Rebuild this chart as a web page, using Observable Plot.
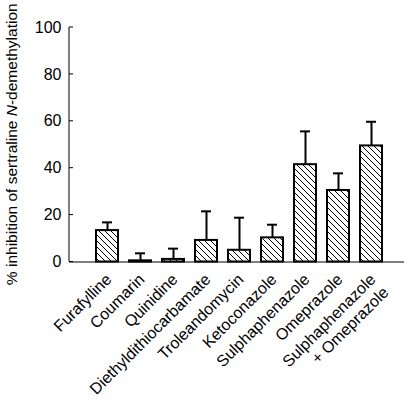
<!DOCTYPE html>
<html>
<head>
<meta charset="utf-8">
<script src="https://cdn.jsdelivr.net/npm/d3@7"></script>
<script src="https://cdn.jsdelivr.net/npm/@observablehq/plot@0.6"></script>
<style>
  html, body { margin: 0; padding: 0; background: #fff; }
  #chart svg { display: block; }
</style>
</head>
<body>
<div id="chart"></div>
<script>
const inhibitors = ["Furafylline", "Coumarin", "Quinidine", "Diethyldithiocarbamate", "Troleandomycin", "Ketoconazole", "Sulphaphenazole", "Omeprazole", "Sulphaphenazole\n+ Omeprazole"];
const meanInhibition = [13.4, 0.5, 1.1, 9.2, 5.0, 10.3, 41.5, 30.5, 49.5];
const errorTop = [16.9, 3.7, 5.7, 21.6, 18.9, 15.9, 55.7, 37.8, 59.8];
const yTicks = [0, 20, 40, 60, 80, 100];

const data = inhibitors.map((name, i) => ({name, mean: meanInhibition[i], top: errorTop[i]}));

const W = 404, H = 401;
const FONT = "'Liberation Sans', Arial, Helvetica, sans-serif";
const plot = Plot.plot({
  width: W,
  height: H,
  marginLeft: 69,
  marginRight: 0,
  marginTop: 27,
  marginBottom: 139.5,
  style: {fontFamily: FONT, fontSize: "16px", color: "#000", background: "#fff"},
  x: {domain: inhibitors, range: [92, 385.5], paddingInner: 0.32, paddingOuter: 0, axis: null},
  y: {domain: [0, 100], axis: null},
  marks: [
    Plot.ruleX(data, {x: "name", y1: "mean", y2: "top", stroke: "#000", strokeWidth: 2}),
    Plot.tickY(data, {x: "name", y: "top", stroke: "#000", strokeWidth: 2, insetLeft: 6, insetRight: 6}),
    Plot.barY(data, {x: "name", y: "mean", fill: "url(#hatch)", stroke: "#000", strokeWidth: 2}),
    Plot.ruleY([0], {stroke: "#000", strokeWidth: 1}),
    Plot.axisY({ticks: yTicks, tickSize: 0, tickPadding: 8, label: null, ariaLabel: "yticks"}),
    Plot.text(data, {x: "name", y: 0, text: "name", rotate: -45, textAnchor: "end", lineAnchor: "top", lineHeight: 1.15, dx: -4.3, dy: 9.2, ariaLabel: "xlabels"})
  ]
});

const svg = d3.select(plot);
svg.selectAll('g[aria-label="yticks"] text').style("font-size", "16px");
svg.selectAll('g[aria-label="xlabels"] text').style("font-size", "16px");

const yScale = plot.scale("y");
const y0 = yScale.apply(0), y100 = yScale.apply(100);
const x0 = 69;

// hatch pattern
const defs = svg.insert("defs", ":first-child");
const pat = defs.append("pattern")
  .attr("id", "hatch")
  .attr("patternUnits", "userSpaceOnUse")
  .attr("width", 6).attr("height", 6);
pat.append("rect").attr("width", 6).attr("height", 6).attr("fill", "#fff");
pat.append("path")
  .attr("d", "M0,0L6,6M-1,5L1,7M5,-1L7,1")
  .attr("stroke", "#000").attr("stroke-width", 1);

// y axis line and inward ticks
svg.append("line")
  .attr("x1", x0).attr("x2", x0).attr("y1", y100).attr("y2", y0)
  .attr("stroke", "#000").attr("stroke-width", 1);
svg.append("g").selectAll("line").data(yTicks).join("line")
  .attr("x1", x0).attr("x2", x0 + 4)
  .attr("y1", d => yScale.apply(d)).attr("y2", d => yScale.apply(d))
  .attr("stroke", "#000").attr("stroke-width", 1);

// y axis title with italic N
const lab = svg.append("text")
  .attr("transform", `translate(17,${(y0 + y100) / 2}) rotate(-90)`)
  .attr("text-anchor", "middle")
  .style("font-size", "15.5px")
  .attr("font-family", FONT)
  .attr("fill", "#000");
lab.append("tspan").text("% inhibition of sertraline ");
lab.append("tspan").attr("font-style", "italic").text("N");
lab.append("tspan").text("-demethylation");

document.getElementById("chart").appendChild(plot);
</script>
</body>
</html>
